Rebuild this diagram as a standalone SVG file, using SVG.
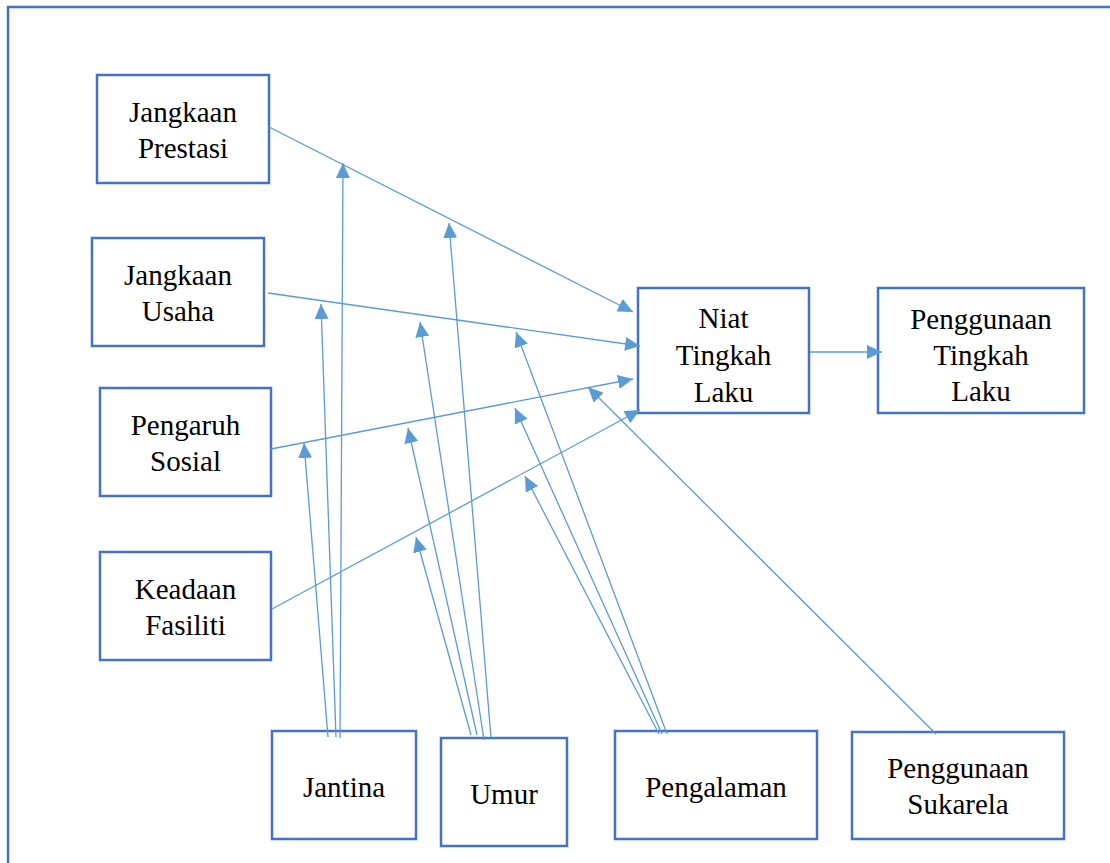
<svg xmlns="http://www.w3.org/2000/svg" width="1110" height="863" viewBox="0 0 1110 863">
<style>
.box{fill:#fff;stroke:#4472C4;stroke-width:2.5}
.c line{stroke:#5B9BD5;stroke-width:1.3;fill:none;marker-end:url(#ah)}
</style>
<defs>
<marker id="ah" markerUnits="userSpaceOnUse" markerWidth="16" markerHeight="15" refX="15" refY="7" orient="auto">
<path d="M0,0 L15,7 L0,14 z" fill="#5B9BD5"/>
</marker>
</defs>
<rect x="0" y="0" width="1110" height="863" fill="#fff"/>
<rect x="8" y="7" width="1130" height="890" fill="none" stroke="#4472C4" stroke-width="2.5"/>
<g font-family="Liberation Serif, serif" font-size="29" fill="#000" text-anchor="middle">
<g id="n-jp"><rect class="box" x="97" y="75" width="172" height="108"/><text x="183" y="122">Jangkaan</text><text x="183" y="158">Prestasi</text></g>
<g id="n-ju"><rect class="box" x="92" y="238" width="172" height="108"/><text x="178" y="285">Jangkaan</text><text x="178" y="321">Usaha</text></g>
<g id="n-ps"><rect class="box" x="100" y="388" width="171" height="108"/><text x="185.5" y="435">Pengaruh</text><text x="185.5" y="471">Sosial</text></g>
<g id="n-kf"><rect class="box" x="100" y="552" width="171" height="108"/><text x="185.5" y="599">Keadaan</text><text x="185.5" y="635">Fasiliti</text></g>
<g id="n-ntl"><rect class="box" x="638" y="288" width="171" height="125"/><text x="723.5" y="328">Niat</text><text x="723.5" y="365">Tingkah</text><text x="723.5" y="402">Laku</text></g>
<g id="n-ptl"><rect class="box" x="878" y="288" width="206" height="125"/><text x="981" y="329">Penggunaan</text><text x="981" y="365">Tingkah</text><text x="981" y="401">Laku</text></g>
<g id="n-jantina"><rect class="box" x="272" y="731" width="144" height="108"/><text x="344" y="797">Jantina</text></g>
<g id="n-umur"><rect class="box" x="441" y="738" width="126" height="108"/><text x="504" y="804">Umur</text></g>
<g id="n-pengalaman"><rect class="box" x="615" y="731" width="202" height="108"/><text x="716" y="797">Pengalaman</text></g>
<g id="n-ps2"><rect class="box" x="852" y="732" width="212" height="107"/><text x="958" y="778">Penggunaan</text><text x="958" y="814">Sukarela</text></g>
</g>
<g class="c" id="connectors">
<line x1="269" y1="127" x2="633" y2="312"/>
<line x1="268" y1="293" x2="640" y2="346"/>
<line x1="271" y1="449" x2="633" y2="379"/>
<line x1="272" y1="609" x2="640" y2="410"/>
<line x1="810" y1="352" x2="882" y2="352"/>
<line x1="936" y1="734" x2="588" y2="387"/>
<line x1="340" y1="738" x2="343" y2="163"/>
<line x1="336" y1="737" x2="321" y2="304"/>
<line x1="328" y1="737" x2="304" y2="443"/>
<line x1="491" y1="738" x2="449" y2="223"/>
<line x1="484" y1="740" x2="420" y2="322"/>
<line x1="477" y1="735" x2="408" y2="428"/>
<line x1="471" y1="735" x2="416" y2="537"/>
<line x1="667" y1="734" x2="516" y2="332"/>
<line x1="662" y1="734" x2="515" y2="408"/>
<line x1="659" y1="734" x2="525" y2="476"/>
</g>
</svg>
